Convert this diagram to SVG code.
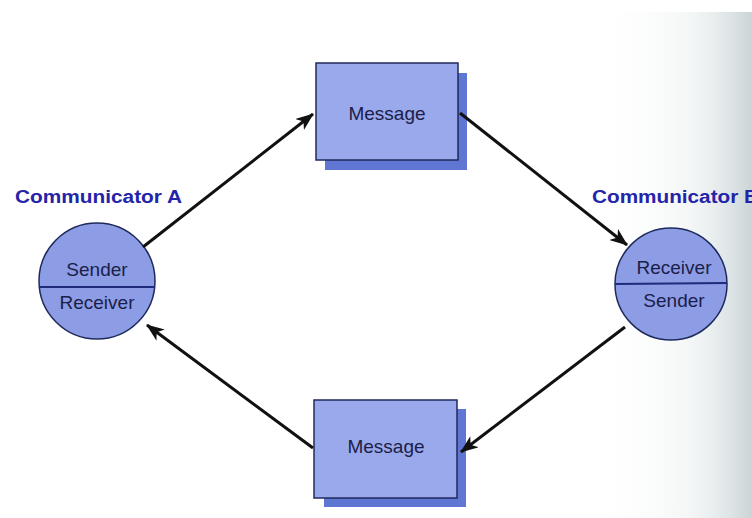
<svg xmlns="http://www.w3.org/2000/svg" width="752" height="518" viewBox="0 0 752 518">
  <defs>
    <linearGradient id="pageTint" x1="0" y1="0" x2="1" y2="0">
      <stop offset="0" stop-color="#ffffff" stop-opacity="0"/>
      <stop offset="0.6" stop-color="#eef2f2" stop-opacity="0.6"/>
      <stop offset="0.85" stop-color="#dfe6e7"/>
      <stop offset="1" stop-color="#cbd4d6"/>
    </linearGradient>
    <marker id="arrow" viewBox="0 0 18 14" refX="17" refY="7" markerWidth="18" markerHeight="14" markerUnits="userSpaceOnUse" orient="auto">
      <path d="M0,0 L18,7 L0,14 L5,7 Z" fill="#111"/>
    </marker>
    <style>
      .title { font-family: "Liberation Sans", Arial, sans-serif; font-weight: bold; font-size: 18px; fill: #2424a8; }
      .label { font-family: "Liberation Sans", Arial, sans-serif; font-size: 19px; fill: #1b2048; text-anchor: middle; }
      .msg { font-family: "Liberation Sans", Arial, sans-serif; font-size: 19px; fill: #1b2048; text-anchor: middle; }
      .face { fill: #9aa9ec; stroke: #1f2a5c; stroke-width: 1.5; }
      .shadow { fill: #5f77d2; }
      .disc { fill: #8c9de6; stroke: #1f2a5c; stroke-width: 1.5; }
      .split { stroke: #1f2a7a; stroke-width: 2; }
      .link { stroke: #111; stroke-width: 3; fill: none; marker-end: url(#arrow); }
    </style>
  </defs>

  <rect width="752" height="518" fill="#ffffff"/>
  <rect x="590" y="12" width="162" height="506" fill="url(#pageTint)"/>

  <g id="communicator-a">
    <text class="title" x="15" y="203" textLength="167" lengthAdjust="spacingAndGlyphs">Communicator A</text>
    <circle class="disc" cx="97" cy="281" r="58"/>
    <line class="split" x1="39" y1="287" x2="155" y2="287"/>
    <text class="label" x="97" y="276">Sender</text>
    <text class="label" x="97" y="309">Receiver</text>
  </g>

  <g id="communicator-b">
    <text class="title" x="592" y="203" textLength="167" lengthAdjust="spacingAndGlyphs">Communicator B</text>
    <circle class="disc" cx="671" cy="284" r="56"/>
    <line class="split" x1="615" y1="284" x2="727" y2="283"/>
    <text class="label" x="674" y="274">Receiver</text>
    <text class="label" x="674" y="307">Sender</text>
  </g>

  <g id="message-top">
    <rect class="shadow" x="325" y="73" width="142" height="97"/>
    <rect class="face" x="316" y="63" width="142" height="97"/>
    <text class="msg" x="387" y="120">Message</text>
  </g>

  <g id="message-bottom">
    <rect class="shadow" x="324" y="409" width="142" height="98"/>
    <rect class="face" x="314" y="400" width="143" height="98"/>
    <text class="msg" x="386" y="453">Message</text>
  </g>

  <g id="connectors">
    <line class="link" x1="143" y1="247" x2="313" y2="114"/>
    <line class="link" x1="460" y1="113" x2="627" y2="245"/>
    <line class="link" x1="625" y1="327" x2="461" y2="452"/>
    <line class="link" x1="313" y1="448" x2="147" y2="325"/>
  </g>
</svg>
